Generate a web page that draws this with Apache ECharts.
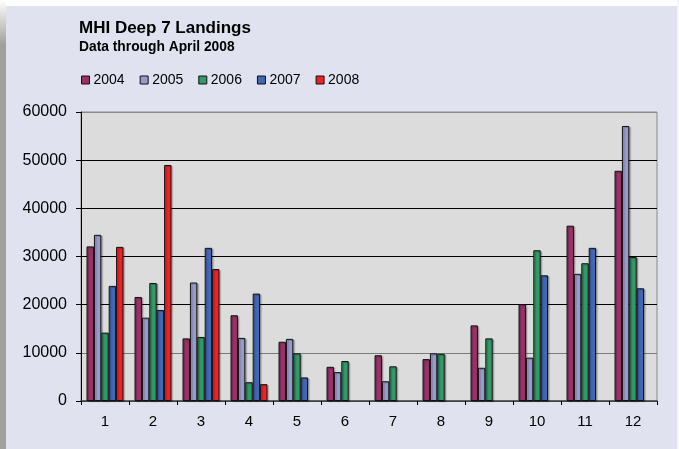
<!DOCTYPE html>
<html>
<head>
<meta charset="utf-8">
<script src="https://cdn.jsdelivr.net/npm/echarts@6/dist/echarts.min.js"></script>
<style>
html,body{margin:0;padding:0;background:#E0E3EF;}
#c{width:679px;height:449px;}
</style>
</head>
<body>
<div id="c"></div>
<script>
const months = ['1','2','3','4','5','6','7','8','9','10','11','12'];
const yearNames = ['2004','2005','2006','2007','2008'];
const y2004 = [32100, 21600, 13000, 17800, 12300, 7100, 9500, 8700, 15700, 20100, 36400, 47800];
const y2005 = [34500, 17300, 24600, 13100, 12900, 6000, 4100, 9900, 6900, 9000, 26400, 57100];
const y2006 = [14200, 24500, 13300, 3900, 9900, 8300, 7200, 9800, 13000, 31300, 28600, 29900];
const y2007 = [23900, 18900, 31800, 22300, 4900, null, null, null, null, 26100, 31800, 23400];
const y2008 = [32000, 49000, 27400, 3500, null, null, null, null, null, null, null, null];
const yTicks = [0, 10000, 20000, 30000, 40000, 50000, 60000];
const seriesData = [y2004, y2005, y2006, y2007, y2008];
const colors = ['#993366', '#9999CC', '#339966', '#4566B2', '#EE2222'];

const chart = echarts.init(document.getElementById('c'), null, {renderer: 'canvas'});
const font = '"Liberation Sans", Arial, sans-serif';

chart.setOption({
  backgroundColor: '#E0E3EF',
  animation: false,
  color: colors,
  graphic: [
    {type: 'rect', left: 0, top: 0, shape: {width: 679, height: 6}, style: {fill: '#FFFFFF'}, z: -1},
    {type: 'rect', left: 0, top: 0, shape: {width: 6, height: 449},
      style: {fill: new echarts.graphic.LinearGradient(0, 0, 0, 1, [
        {offset: 0, color: '#FFFFFF'}, {offset: 0.1, color: '#A0A0A0'}, {offset: 1, color: '#A0A0A0'}])}, z: -1},
    {type: 'rect', left: 677, top: 0, shape: {width: 2, height: 449}, style: {fill: '#F4F5FA'}, z: -1}
  ],
  title: [
    {text: 'MHI Deep 7 Landings', left: 79, top: 20, padding: 0,
     textStyle: {fontFamily: font, fontSize: 17, fontWeight: 'bold', color: '#000'}},
    {text: 'Data through April 2008', left: 79, top: 40, padding: 0,
     textStyle: {fontFamily: font, fontSize: 13.8, fontWeight: 'bold', color: '#000'}}
  ],
  legend: {
    left: 81, top: 73, padding: 0,
    icon: 'rect', itemWidth: 8, itemHeight: 8, itemGap: 15,
    textStyle: {fontFamily: font, fontSize: 14, color: '#000', padding: [0, 0, 0, -1]},
    itemStyle: {borderColor: '#111', borderWidth: 1},
    data: yearNames
  },
  grid: {
    left: 81, right: 22, top: 112, bottom: 48,
    show: true, backgroundColor: '#DCDCDC', borderColor: '#8A8A8A', borderWidth: 1
  },
  xAxis: {
    type: 'category', data: months,
    axisLine: {lineStyle: {color: '#444', width: 1.5}},
    axisTick: {show: true, length: 4, interval: 0, lineStyle: {color: '#000'}},
    axisLabel: {fontFamily: font, fontSize: 15, color: '#000', margin: 13, interval: 0},
    splitLine: {show: false}
  },
  yAxis: {
    type: 'value', min: yTicks[0], max: yTicks[yTicks.length - 1], interval: 10000,
    axisLine: {show: true, lineStyle: {color: '#000', width: 1}},
    axisTick: {show: true, length: 5, lineStyle: {color: '#000'}},
    axisLabel: {fontFamily: font, fontSize: 16, color: '#000', margin: 14, formatter: v => String(v)},
    splitLine: {show: true, lineStyle: {color: ['#444', '#7A7A7A', '#000', '#000', '#000', '#000', '#8A8A8A'], width: 1}}
  },
  series: seriesData.map((d, i) => ({
    name: yearNames[i],
    type: 'bar',
    data: d,
    barGap: '0%',
    barCategoryGap: '23%',
    itemStyle: {
      color: colors[i], borderColor: '#111', borderWidth: 1,
      shadowColor: 'rgba(0,0,0,0.25)', shadowOffsetX: 1.5, shadowOffsetY: 1, shadowBlur: 1
    }
  }))
});
</script>
</body>
</html>
